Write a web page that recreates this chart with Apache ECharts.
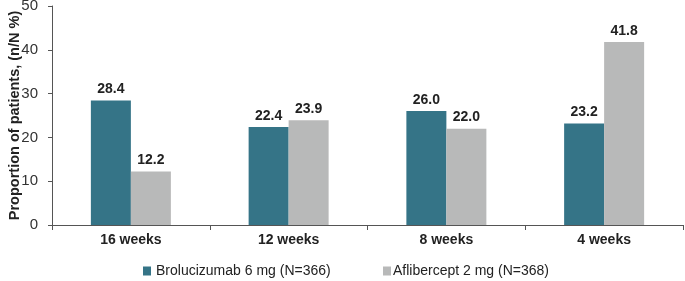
<!DOCTYPE html>
<html>
<head>
<meta charset="utf-8">
<script src="https://cdn.jsdelivr.net/npm/echarts@6/dist/echarts.min.js"></script>
<style>
  html, body { margin: 0; padding: 0; background: #fff; }
  #chart { width: 685px; height: 281px; }
</style>
</head>
<body>
<div id="chart"></div>
<script>
const categories = ['16 weeks', '12 weeks', '8 weeks', '4 weeks'];
const brolucizumab = [28.4, 22.4, 26.0, 23.2];
const aflibercept = [12.2, 23.9, 22.0, 41.8];
const seriesNames = ['Brolucizumab 6 mg (N=366)', 'Aflibercept 2 mg (N=368)'];

const chart = echarts.init(document.getElementById('chart'));

const labelStyle = {
  show: true,
  position: 'top',
  distance: 4,
  fontFamily: 'Liberation Sans',
  fontWeight: 'bold',
  fontSize: 14,
  color: '#222',
  formatter: p => p.value.toFixed(1)
};

// two legends so the second swatch can sit tight against its text like the original
const legendBase = {
  top: 259,
  itemWidth: 8,
  itemHeight: 9,
  icon: 'rect',
  textStyle: { fontSize: 14, color: '#222' }
};

chart.setOption({
  animation: false,
  textStyle: { fontFamily: 'Liberation Sans' },
  grid: { left: 52, right: 2, top: 6, bottom: 56, containLabel: false, outerBoundsMode: 'none' },
  legend: [
    Object.assign({}, legendBase, { data: [seriesNames[0]], left: 138 }),
    Object.assign({}, legendBase, {
      data: [seriesNames[1]],
      left: 378,
      textStyle: { fontSize: 14, color: '#222', padding: [0, 0, 0, -3] }
    })
  ],
  xAxis: {
    type: 'category',
    data: categories,
    axisLine: { lineStyle: { color: '#555', width: 1 } },
    axisTick: { show: true, length: 5, lineStyle: { color: '#555' } },
    axisLabel: { fontWeight: 'bold', fontSize: 14, color: '#222', margin: 8 }
  },
  yAxis: {
    type: 'value',
    min: 0,
    max: 50,
    interval: 10,
    name: 'Proportion of patients, (n/N %)',
    nameLocation: 'middle',
    nameGap: 30,
    nameMoveOverlap: false,
    nameTextStyle: { fontWeight: 'bold', fontSize: 14.5, color: '#222' },
    splitLine: { show: false },
    axisLine: { show: true, lineStyle: { color: '#555' } },
    axisTick: { show: true, length: 4, lineStyle: { color: '#555' } },
    axisLabel: { fontSize: 15, color: '#333', margin: 14 }
  },
  series: [
    {
      name: seriesNames[0],
      type: 'bar',
      data: brolucizumab,
      barWidth: 40,
      barGap: '0%',
      itemStyle: { color: '#357487' },
      label: labelStyle
    },
    {
      name: seriesNames[1],
      type: 'bar',
      data: aflibercept,
      barWidth: 40,
      itemStyle: { color: '#b8b9b9' },
      label: labelStyle
    }
  ]
});
</script>
</body>
</html>
